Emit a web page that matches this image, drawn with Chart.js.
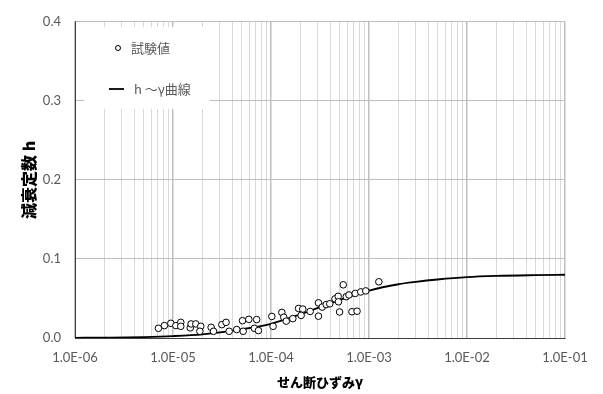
<!DOCTYPE html>
<html>
<head>
<meta charset="utf-8">
<script src="https://cdn.jsdelivr.net/npm/chart.js@4"></script>
<style>
  html, body { margin: 0; padding: 0; background: #fff; }
  #wrap { width: 603px; height: 394px; }
</style>
</head>
<body>
<div id="wrap"><canvas id="myChart" width="603" height="394"></canvas></div>
<script>
"use strict";
// test values (strain, damping)
var strainTest = [7.10e-6, 8.17e-6, 9.51e-6, 1.07e-5, 1.20e-5, 1.20e-5, 1.50e-5, 1.53e-5, 1.71e-5, 1.92e-5,
    1.88e-5, 2.45e-5, 2.59e-5, 3.15e-5, 3.48e-5, 3.74e-5, 4.47e-5, 5.12e-5, 5.20e-5, 5.94e-5,
    7.14e-5, 6.76e-5, 7.44e-5, 1.02e-4, 1.05e-4, 1.29e-4, 1.35e-4, 1.43e-4, 1.67e-4, 1.91e-4,
    2.11e-4, 2.03e-4, 2.51e-4, 3.05e-4, 3.05e-4, 3.33e-4, 3.66e-4, 3.98e-4, 4.50e-4, 4.85e-4,
    4.88e-4, 5.01e-4, 5.46e-4, 5.86e-4, 6.25e-4, 6.70e-4, 7.55e-4, 7.24e-4, 8.24e-4, 9.27e-4,
    1.26e-3];
var dampingTest = [0.0123, 0.0157, 0.0186, 0.0157, 0.0198, 0.0148, 0.0128, 0.0178, 0.0178, 0.0148,
    0.0085, 0.0135, 0.0085, 0.0169, 0.0198, 0.0085, 0.0107, 0.0219, 0.0085, 0.0236,
    0.0233, 0.0123, 0.0094, 0.0273, 0.0148, 0.0324, 0.0263, 0.0213, 0.0245, 0.0374,
    0.0366, 0.0286, 0.0336, 0.0445, 0.0276, 0.0391, 0.0423, 0.0433, 0.0495, 0.0527,
    0.0458, 0.0329, 0.0673, 0.0523, 0.0545, 0.0332, 0.0339, 0.0564, 0.0583, 0.0596,
    0.0711];
// h ~ gamma curve
var strainCurve = [1e-6, 2e-6, 5e-6, 1e-5, 2e-5, 5e-5, 1e-4, 2e-4, 3e-4, 5e-4, 1e-3, 2e-3, 3e-3, 5e-3, 1e-2, 2e-2, 5e-2, 1e-1];
var dampingCurve = [0.0002, 0.0005, 0.0012, 0.0024, 0.0047, 0.011, 0.018, 0.030, 0.038, 0.048, 0.060, 0.068, 0.071, 0.074, 0.077, 0.0785, 0.0795, 0.080];
var decades = [-6, -5, -4, -3, -2, -1];
var yTicks = [0, 0.1, 0.2, 0.3, 0.4];

var xTickValues = [];
decades.forEach(function (e) {
    for (var m = 1; m <= 9; m++) {
        if (e === -1 && m > 1) break;
        xTickValues.push(Number((m * Math.pow(10, e)).toPrecision(3)));
    }
});

function isDecade(v) {
    var l = Math.log10(v);
    return Math.abs(l - Math.round(l)) < 1e-6;
}
function sciLabel(v) {
    var e = Math.round(Math.log10(v));
    var s = e < 0 ? "-" : "+";
    var a = Math.abs(e);
    return "1.0E" + s + (a < 10 ? "0" + a : a);
}

var legendBox = {
    id: "legendBox",
    beforeDatasetsDraw: function (chart) {
        var c = chart.ctx;
        var ds = chart.data.datasets;
        c.save();
        c.fillStyle = "#ffffff";
        c.fillRect(84, 27, 126, 82);
        c.font = "13px 'Noto Sans CJK JP'";
        c.textBaseline = "middle";
        c.textAlign = "left";
        // test values item
        c.beginPath();
        c.arc(118, 48, 2.5, 0, Math.PI * 2);
        c.fillStyle = "#ffffff";
        c.fill();
        c.strokeStyle = "#000000";
        c.lineWidth = 1;
        c.stroke();
        c.fillStyle = "#595959";
        c.fillText(ds[0].label, 131, 48);
        // curve item
        c.beginPath();
        c.moveTo(109, 89);
        c.lineTo(124, 89);
        c.lineWidth = 1.8;
        c.stroke();
        c.fillText(ds[1].label, 134, 89);
        c.restore();
    }
};

var ctx = document.getElementById("myChart").getContext("2d");
var chart = new Chart(ctx, {
    type: "scatter",
    data: {
        datasets: [{
            label: "試験値",
            data: strainTest.map(function (x, i) { return {x: x, y: dampingTest[i]}; }),
            backgroundColor: "#ffffff",
            borderColor: "#000000",
            borderWidth: 1,
            pointRadius: 3.3,
            showLine: false
        }, {
            label: "h ～γ曲線",
            data: strainCurve.map(function (x, i) { return {x: x, y: dampingCurve[i]}; }),
            borderColor: "#000000",
            backgroundColor: "#000000",
            borderWidth: 1.8,
            pointRadius: 0,
            showLine: true,
            cubicInterpolationMode: "monotone"
        }]
    },
    options: {
        responsive: false,
        animation: false,
        layout: {padding: {top: 18, right: 38, left: 0, bottom: 0}},
        plugins: {legend: {display: false}, tooltip: {enabled: false}},
        scales: {
            x: {
                type: "logarithmic",
                min: 1e-6,
                max: 1e-1,
                afterBuildTicks: function (scale) {
                    scale.ticks = xTickValues.map(function (v) { return {value: v, major: isDecade(v)}; });
                },
                afterFit: function (scale) { scale.height = 56; },
                border: {color: "#404040", width: 1},
                grid: {
                    drawTicks: false,
                    color: function (c) { return c.tick && isDecade(c.tick.value) ? "#bfbfbf" : "#d9d9d9"; },
                    lineWidth: function (c) { return c.tick && isDecade(c.tick.value) ? 1.5 : 1; }
                },
                ticks: {
                    autoSkip: false,
                    maxRotation: 0,
                    padding: 12,
                    color: "#595959",
                    font: {family: "Lato", size: 13},
                    callback: function (v) { return isDecade(v) ? sciLabel(v) : ""; }
                },
                title: {
                    display: true,
                    text: "せん断ひずみγ",
                    color: "#000000",
                    font: {family: "'Noto Sans CJK JP'", size: 13, weight: "900"},
                    padding: {top: 0, bottom: 4}
                }
            },
            y: {
                min: 0,
                max: 0.4,
                afterBuildTicks: function (scale) {
                    scale.ticks = yTicks.map(function (v) { return {value: v}; });
                },
                afterFit: function (scale) { scale.width = 75; },
                border: {color: "#404040", width: 1},
                grid: {drawTicks: false, color: "#bfbfbf", lineWidth: 1},
                ticks: {
                    padding: 14,
                    color: "#595959",
                    font: {family: "Lato", size: 13},
                    callback: function (v) { return Number(v).toFixed(1); }
                },
                title: {
                    display: true,
                    text: "減衰定数 h",
                    color: "#000000",
                    font: {family: "'Noto Sans CJK JP'", size: 16, weight: "900"},
                    padding: {top: 19, bottom: 0}
                }
            }
        }
    },
    plugins: [legendBox]
});
</script>
</body>
</html>
